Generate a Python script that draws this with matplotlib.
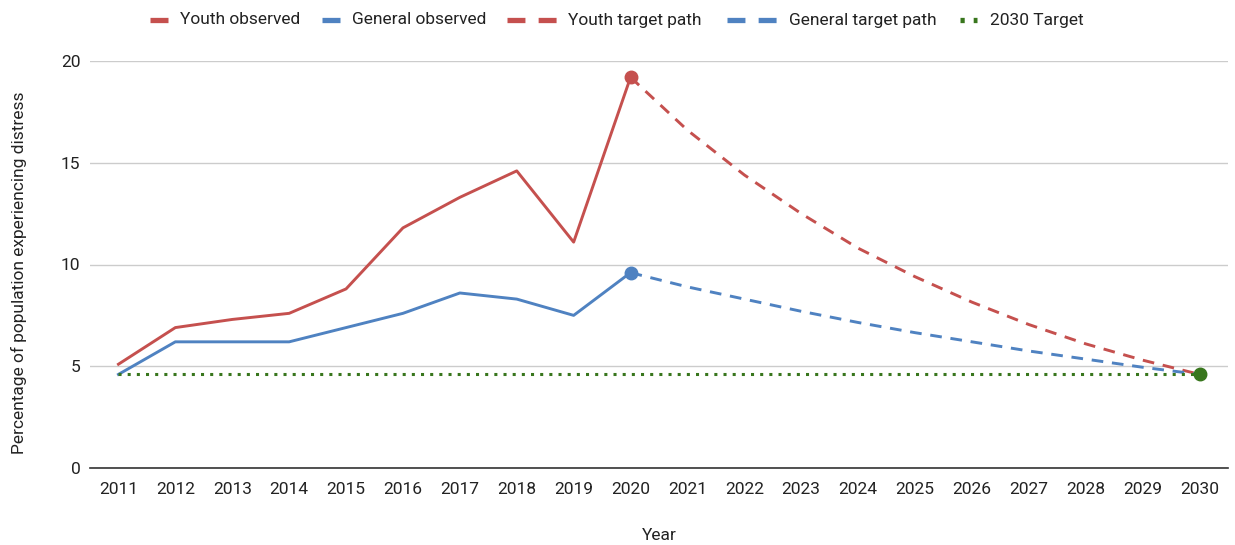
import matplotlib.pyplot as plt
from matplotlib.lines import Line2D

plt.rcParams['font.family'] = ['Roboto', 'DejaVu Sans']

years_obs = [2011, 2012, 2013, 2014, 2015, 2016, 2017, 2018, 2019, 2020]
youth_obs = [5.1, 6.9, 7.3, 7.6, 8.8, 11.8, 13.3, 14.6, 11.1, 19.2]
general_obs = [4.6, 6.2, 6.2, 6.2, 6.9, 7.6, 8.6, 8.3, 7.5, 9.6]

years_path = [2020, 2021, 2022, 2023, 2024, 2025, 2026, 2027, 2028, 2029, 2030]
youth_path = [19.2, 16.6, 14.4, 12.5, 10.8, 9.4, 8.15, 7.05, 6.1, 5.3, 4.6]
general_path = [9.6, 8.9, 8.3, 7.7, 7.15, 6.65, 6.2, 5.75, 5.35, 4.95, 4.6]

years_all = list(range(2011, 2031))
target = 4.6

legend_labels = ["Youth observed", "General observed", "Youth target path",
                 "General target path", "2030 Target"]

red = "#c5504e"
blue = "#4f82c1"
green = "#38761d"
text_col = "#222222"
fs = 12.5

W, H = 1235, 545
fig = plt.figure(figsize=(W / 100, H / 100), dpi=100)
ax = fig.add_axes([90 / W, 77 / H, 1138 / W, 407 / H])

dash = (0, (4, 3))
dots = (0, (1, 2))

ax.plot(years_obs, youth_obs, color=red, lw=2.1)
ax.plot(years_obs, general_obs, color=blue, lw=2.1)
ax.plot(years_path, youth_path, color=red, lw=2.1, ls=dash)
ax.plot(years_path, general_path, color=blue, lw=2.1, ls=dash)
ax.plot(years_all, [target] * len(years_all), color=green, lw=2.2, ls=dots)

# end-point markers
ax.plot(years_obs[-1], youth_obs[-1], "o", color=red, ms=9)
ax.plot(years_obs[-1], general_obs[-1], "o", color=blue, ms=9)
ax.plot(years_all[-1], target, "o", color=green, ms=9)

ax.set_xlim(2010.5, 2030.5)
ax.set_ylim(0, 20)
ax.set_xticks(years_all)
ax.set_yticks([0, 5, 10, 15, 20])
ax.grid(axis="y", color="#cccccc", lw=1)
ax.set_axisbelow(True)
for s in ["top", "right", "left"]:
    ax.spines[s].set_visible(False)
ax.spines["bottom"].set_color("#333333")
ax.spines["bottom"].set_linewidth(1.2)
ax.tick_params(axis="both", length=0, labelsize=fs, colors=text_col)
ax.tick_params(axis="x", pad=10)
ax.tick_params(axis="y", pad=7)

ax.set_xlabel("Year", fontsize=fs, color=text_col)
ax.set_ylabel("Percentage of population experiencing distress", fontsize=fs, color=text_col)
ax.xaxis.set_label_coords(0.5, -0.148)
ax.yaxis.set_label_coords(-0.055, 0.479)

# legend row along the top, drawn by hand so each key has its own length
handle_x = [(150, 168), (322, 340), (507, 557), (727, 777), (960, 977)]
text_x = [180, 352, 568, 789, 990]
styles = [(red, "-"), (blue, "-"), (red, (0, (3.4, 2.5))), (blue, (0, (3.4, 2.5))),
          (green, (0, (0.8, 1.7)))]
ly = 1 - 20 / H
for (x0, x1), tx, (col, ls), lab in zip(handle_x, text_x, styles, legend_labels):
    fig.add_artist(Line2D([x0 / W, x1 / W], [ly, ly], transform=fig.transFigure,
                          color=col, lw=3.8, ls=ls, solid_capstyle="butt",
                          dash_capstyle="butt"))
    fig.text(tx / W, ly, lab, fontsize=fs, color=text_col, va="center", ha="left")

fig.savefig("out.png", dpi=100)
